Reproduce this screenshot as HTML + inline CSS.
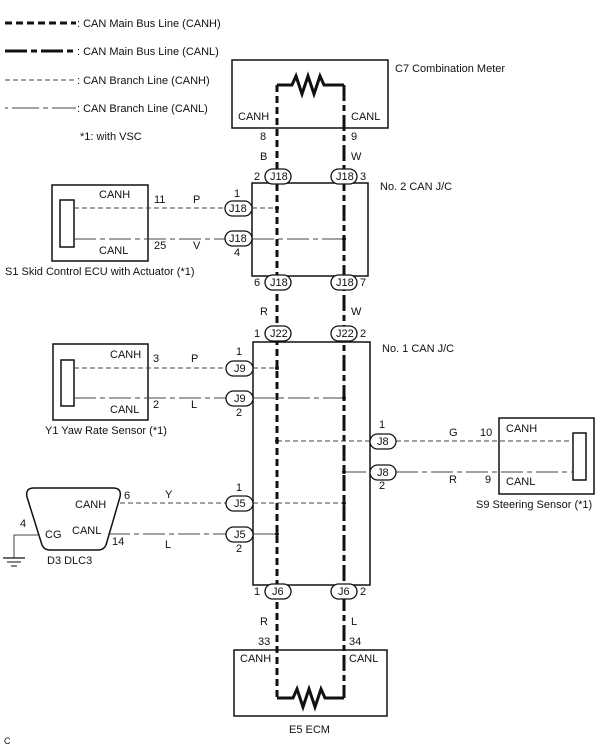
<!DOCTYPE html>
<html><head><meta charset="utf-8"><style>
html,body{margin:0;padding:0;background:#fff}
svg{display:block}
text{font-family:"Liberation Sans",Arial,sans-serif;font-size:11px;fill:#111}
</style></head><body>
<svg width="605" height="749" viewBox="0 0 605 749" xmlns="http://www.w3.org/2000/svg">
<defs>
<style>
.mh{stroke:#111;stroke-width:3;fill:none;stroke-dasharray:7 4}
.ml{stroke:#111;stroke-width:3;fill:none;stroke-dasharray:16 4 6 4}
.bh{stroke:#444;stroke-width:1;fill:none;stroke-dasharray:5 3}
.bl{stroke:#444;stroke-width:1;fill:none;stroke-dasharray:22 4 5 4}
.box{stroke:#111;stroke-width:1.5;fill:none}
.ov{stroke:#111;stroke-width:1.3;fill:#fff}
</style>
</defs>
<line x1="5" y1="23" x2="76" y2="23" class="mh"/>
<text x="77" y="27">: CAN Main Bus Line (CANH)</text>
<line x1="5" y1="51" x2="76" y2="51" class="ml" style="stroke-dasharray:22 4 6 4"/>
<text x="77" y="55">: CAN Main Bus Line (CANL)</text>
<line x1="5" y1="80" x2="76" y2="80" class="bh"/>
<text x="77" y="84">: CAN Branch Line (CANH)</text>
<line x1="5" y1="108" x2="76" y2="108" class="bl" style="stroke-dasharray:3 4 27 4 5 4 28"/>
<text x="77" y="112">: CAN Branch Line (CANL)</text>
<text x="80" y="140">*1: with VSC</text>

<rect x="232" y="60" width="156" height="68" class="box"/>
<text x="395" y="72">C7 Combination Meter</text>
<polyline points="277,85 292,85 296,76 302,94 308,76 314,94 320,76 324,85 344,85" style="stroke:#111;stroke-width:3;fill:none"/>
<text x="238" y="120">CANH</text><text x="351" y="120">CANL</text>
<text x="260" y="140">8</text><text x="351" y="140">9</text>
<text x="260" y="160">B</text><text x="351" y="160">W</text>

<line x1="277" y1="85" x2="277" y2="698" class="mh"/>
<line x1="344" y1="85" x2="344" y2="698" class="ml"/>

<rect x="252" y="183" width="116" height="93" class="box"/>
<text x="380" y="190">No. 2 CAN J/C</text>
<rect x="265" y="169" width="26" height="15" rx="7.5" class="ov"/><text x="270" y="180">J18</text>
<rect x="331" y="169" width="26" height="15" rx="7.5" class="ov"/><text x="336" y="180">J18</text>
<text x="254" y="180">2</text><text x="360" y="180">3</text>
<rect x="265" y="275" width="26" height="15" rx="7.5" class="ov"/><text x="270" y="286">J18</text>
<rect x="331" y="275" width="26" height="15" rx="7.5" class="ov"/><text x="336" y="286">J18</text>
<text x="254" y="286">6</text><text x="360" y="286">7</text>
<text x="260" y="315">R</text><text x="351" y="315">W</text>

<rect x="52" y="185" width="96" height="76" class="box"/>
<rect x="60" y="200" width="14" height="47" class="box"/>
<text x="99" y="198">CANH</text><text x="99" y="254">CANL</text>
<line x1="74" y1="208" x2="225" y2="208" class="bh"/>
<line x1="252" y1="208" x2="277" y2="208" class="bh"/>
<line x1="74" y1="239" x2="225" y2="239" class="bl"/>
<line x1="252" y1="239" x2="344" y2="239" class="bl"/>
<circle cx="277" cy="208" r="2" fill="#111"/><circle cx="344" cy="239" r="2" fill="#111"/>
<rect x="225" y="201" width="27" height="15" rx="7.5" class="ov"/><text x="229" y="212">J18</text>
<rect x="225" y="231" width="27" height="15" rx="7.5" class="ov"/><text x="229" y="242">J18</text>
<text x="154" y="203">11</text><text x="193" y="203">P</text><text x="234" y="197">1</text>
<text x="154" y="249">25</text><text x="193" y="249">V</text><text x="234" y="256">4</text>
<text x="5" y="275">S1 Skid Control ECU with Actuator (*1)</text>

<rect x="253" y="342" width="117" height="243" class="box"/>
<text x="382" y="352">No. 1 CAN J/C</text>
<rect x="265" y="326" width="26" height="15" rx="7.5" class="ov"/><text x="270" y="337">J22</text>
<rect x="331" y="326" width="26" height="15" rx="7.5" class="ov"/><text x="336" y="337">J22</text>
<text x="254" y="337">1</text><text x="360" y="337">2</text>
<rect x="265" y="584" width="26" height="15" rx="7.5" class="ov"/><text x="272" y="595">J6</text>
<rect x="331" y="584" width="26" height="15" rx="7.5" class="ov"/><text x="338" y="595">J6</text>
<text x="254" y="595">1</text><text x="360" y="595">2</text>
<text x="260" y="625">R</text><text x="351" y="625">L</text>
<text x="258" y="645">33</text><text x="349" y="645">34</text>

<rect x="53" y="344" width="95" height="76" class="box"/>
<rect x="61" y="360" width="13" height="46" class="box"/>
<text x="110" y="358">CANH</text><text x="110" y="413">CANL</text>
<line x1="74" y1="368" x2="226" y2="368" class="bh"/>
<line x1="253" y1="368" x2="277" y2="368" class="bh"/>
<line x1="74" y1="398" x2="226" y2="398" class="bl"/>
<line x1="253" y1="398" x2="344" y2="398" class="bl"/>
<circle cx="277" cy="368" r="2" fill="#111"/><circle cx="344" cy="398" r="2" fill="#111"/>
<rect x="226" y="361" width="27" height="15" rx="7.5" class="ov"/><text x="234" y="372">J9</text>
<rect x="226" y="391" width="27" height="15" rx="7.5" class="ov"/><text x="234" y="402">J9</text>
<text x="153" y="362">3</text><text x="191" y="362">P</text><text x="236" y="355">1</text>
<text x="153" y="408">2</text><text x="191" y="408">L</text><text x="236" y="416">2</text>
<text x="45" y="434">Y1 Yaw Rate Sensor (*1)</text>

<rect x="499" y="418" width="95" height="76" class="box"/>
<rect x="573" y="433" width="13" height="47" class="box"/>
<text x="506" y="432">CANH</text><text x="506" y="485">CANL</text>
<line x1="277" y1="441" x2="370" y2="441" class="bh"/>
<line x1="396" y1="441" x2="573" y2="441" class="bh"/>
<line x1="344" y1="472" x2="370" y2="472" class="bl"/>
<line x1="396" y1="472" x2="573" y2="472" class="bl"/>
<circle cx="277" cy="441" r="2" fill="#111"/><circle cx="344" cy="472" r="2" fill="#111"/>
<rect x="370" y="434" width="26" height="15" rx="7.5" class="ov"/><text x="377" y="445">J8</text>
<rect x="370" y="465" width="26" height="15" rx="7.5" class="ov"/><text x="377" y="476">J8</text>
<text x="379" y="428">1</text><text x="449" y="436">G</text><text x="480" y="436">10</text>
<text x="379" y="489">2</text><text x="449" y="483">R</text><text x="485" y="483">9</text>
<text x="476" y="508">S9 Steering Sensor (*1)</text>

<path d="M34,488 L113,488 Q122,488 120,497 L106,545 Q104,550 98,550 L50,550 Q44,550 42,545 L27,497 Q25,488 34,488 Z" class="box"/>
<text x="75" y="508">CANH</text><text x="72" y="534">CANL</text><text x="45" y="538">CG</text>
<text x="124" y="499">6</text><text x="112" y="545">14</text><text x="20" y="527">4</text>
<line x1="120" y1="503" x2="226" y2="503" class="bh"/>
<line x1="253" y1="503" x2="344" y2="503" class="bh"/>
<line x1="108" y1="534" x2="226" y2="534" class="bl"/>
<line x1="253" y1="534" x2="277" y2="534" class="bl"/>
<circle cx="344" cy="503" r="2" fill="#111"/><circle cx="277" cy="534" r="2" fill="#111"/>
<rect x="226" y="496" width="27" height="15" rx="7.5" class="ov"/><text x="234" y="507">J5</text>
<rect x="226" y="527" width="27" height="15" rx="7.5" class="ov"/><text x="234" y="538">J5</text>
<text x="236" y="491">1</text><text x="165" y="498">Y</text>
<text x="236" y="552">2</text><text x="165" y="548">L</text>
<polyline points="40,535 14,535 14,558" style="stroke:#444;stroke-width:1;fill:none"/>
<line x1="3" y1="558" x2="25" y2="558" stroke="#111" stroke-width="1.2"/>
<line x1="7" y1="562" x2="21" y2="562" stroke="#111" stroke-width="1"/>
<line x1="11" y1="566" x2="17" y2="566" stroke="#111" stroke-width="1"/>
<text x="47" y="564">D3 DLC3</text>

<rect x="234" y="650" width="153" height="66" class="box"/>
<text x="240" y="662">CANH</text><text x="349" y="662">CANL</text>
<polyline points="277,698 293,698 297,689 303,707 309,689 315,707 321,689 325,698 344,698" style="stroke:#111;stroke-width:3;fill:none"/>
<text x="289" y="733">E5 ECM</text>
<text x="4" y="744" style="font-size:9px">C</text>
</svg>
</body></html>
